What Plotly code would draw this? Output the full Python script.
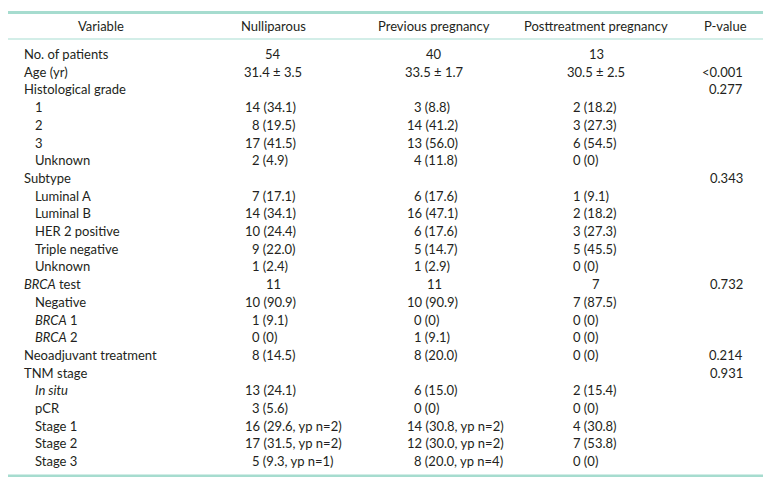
import plotly.graph_objects as go

headers = ["Variable", "Nulliparous", "Previous pregnancy", "Posttreatment pregnancy", "P-value"]
labels = ["No. of patients", "Age (yr)", "Histological grade", "1", "2", "3", "Unknown",
          "Subtype", "Luminal A", "Luminal B", "HER 2 positive", "Triple negative", "Unknown",
          "<i>BRCA</i> test", "Negative", "<i>BRCA</i> 1", "<i>BRCA</i> 2",
          "Neoadjuvant treatment", "TNM stage", "<i>In situ</i>", "pCR", "Stage 1", "Stage 2", "Stage 3"]
level = [0, 0, 0, 1, 1, 1, 1, 0, 1, 1, 1, 1, 1, 0, 1, 1, 1, 0, 0, 1, 1, 1, 1, 1]
nulliparous = ["54", "31.4 ± 3.5", "", "14 (34.1)", "8 (19.5)", "17 (41.5)", "2 (4.9)", "",
               "7 (17.1)", "14 (34.1)", "10 (24.4)", "9 (22.0)", "1 (2.4)", "11", "10 (90.9)",
               "1 (9.1)", "0 (0)", "8 (14.5)", "", "13 (24.1)", "3 (5.6)", "16 (29.6, yp n=2)",
               "17 (31.5, yp n=2)", "5 (9.3, yp n=1)"]
previous = ["40", "33.5 ± 1.7", "", "3 (8.8)", "14 (41.2)", "13 (56.0)", "4 (11.8)", "",
            "6 (17.6)", "16 (47.1)", "6 (17.6)", "5 (14.7)", "1 (2.9)", "11", "10 (90.9)",
            "0 (0)", "1 (9.1)", "8 (20.0)", "", "6 (15.0)", "0 (0)", "14 (30.8, yp n=2)",
            "12 (30.0, yp n=2)", "8 (20.0, yp n=4)"]
posttreatment = ["13", "30.5 ± 2.5", "", "2 (18.2)", "3 (27.3)", "6 (54.5)", "0 (0)", "",
                 "1 (9.1)", "2 (18.2)", "3 (27.3)", "5 (45.5)", "0 (0)", "7", "7 (87.5)",
                 "0 (0)", "0 (0)", "0 (0)", "", "2 (15.4)", "0 (0)", "4 (30.8)",
                 "7 (53.8)", "0 (0)"]
pvalues = ["", "<0.001", "0.277", "", "", "", "", "0.343", "", "", "", "", "", "0.732",
           "", "", "", "0.214", "0.931", "", "", "", "", ""]
centered_rows = [0, 1, 13]

W, H = 771, 477
FONT = "Lato"
FS = 13
TXT = "#231f20"
LINE = "#a6dccf"
LINE_THIN = "#c5e9e0"

header_y = 17.5
row0 = 46
step = 17.7
label_x = [14, 25]
col_center = [265, 426, 588]
col_left2 = [235, 397, 556]   # start for two-digit leading numbers
digit_w = 7.0
p_right = 737
var_center = 93
p_center = 717

fig = go.Figure()
ann = []

def add(text, x, y, anchor="left"):
    ann.append(dict(text=text, x=x, y=y, xref="x", yref="y", xanchor=anchor,
                    yanchor="middle", showarrow=False,
                    font=dict(family=FONT, size=FS, color=TXT)))

# headers
add(headers[0], var_center, header_y, "center")
for i, h in enumerate(headers[1:4]):
    add(h, col_center[i], header_y, "center")
add(headers[4], p_center, header_y, "center")

cols = [nulliparous, previous, posttreatment]
for r, lab in enumerate(labels):
    y = row0 + r * step
    add(lab, label_x[level[r]], y)
    for c, col in enumerate(cols):
        v = col[r]
        if not v:
            continue
        if r in centered_rows:
            add(v, col_center[c], y, "center")
        else:
            lead = v.split(" ")[0]
            x = col_left2[c] + (2 - len(lead)) * digit_w
            add(v, x, y)
    if pvalues[r]:
        add(pvalues[r], p_right, y, "right")

shapes = [
    dict(type="line", xref="x", yref="y", x0=0, x1=W, y0=4.5, y1=4.5,
         line=dict(color=LINE, width=3)),
    dict(type="line", xref="x", yref="y", x0=0, x1=W, y0=31, y1=31,
         line=dict(color=LINE_THIN, width=1.5)),
    dict(type="line", xref="x", yref="y", x0=0, x1=W, y0=468, y1=468,
         line=dict(color=LINE, width=3)),
]

fig.update_layout(
    width=W, height=H, margin=dict(l=0, r=0, t=0, b=0),
    paper_bgcolor="white", plot_bgcolor="white",
    xaxis=dict(range=[0, W], visible=False, fixedrange=True),
    yaxis=dict(range=[H, 0], visible=False, fixedrange=True),
    annotations=ann, shapes=shapes, showlegend=False,
)
fig.write_html("out.html")
